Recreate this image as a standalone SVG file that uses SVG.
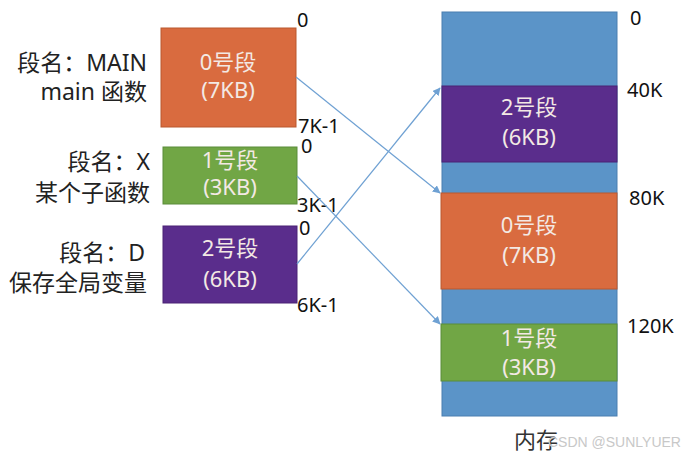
<svg xmlns="http://www.w3.org/2000/svg" width="681" height="457" viewBox="0 0 681 457">
<defs>
<style>
.lbl{font-family:"Noto Sans","Noto Sans CJK SC",sans-serif;font-size:23px;fill:#222;text-anchor:end}
.num{font-family:"Noto Sans","Noto Sans CJK SC",sans-serif;font-size:20px;fill:#111}
.in{font-family:"Noto Sans","Noto Sans CJK SC",sans-serif;font-size:22px;fill:#f3e9e4;text-anchor:middle}
.or{fill:#d96b3f;stroke:#b9582f;stroke-width:1}
.gr{fill:#71a645;stroke:#5b8c3a;stroke-width:1}
.pu{fill:#5a2d8c;stroke:#4a2275;stroke-width:1}
.bl{fill:#5b94c8;stroke:#4a7fb0;stroke-width:1}
.edge{stroke:#6fa1d3;stroke-width:1.2;fill:none;marker-end:url(#ah)}
</style>
<marker id="ah" viewBox="0 0 10 10" refX="9" refY="5" markerWidth="8" markerHeight="8" orient="auto" markerUnits="userSpaceOnUse">
<path d="M0,0 L10,5 L0,10 z" fill="#6fa1d3"/>
</marker>
</defs>
<rect width="681" height="457" fill="#fff"/>
<g id="seg0">
<rect class="or" x="161" y="28" width="135" height="99"/>
<text class="in" x="228" y="70">0号段</text>
<text class="in" x="228" y="98">(7KB)</text>
<text class="lbl" x="147" y="71">段名：MAIN</text>
<text class="lbl" x="147" y="100">main 函数</text>
<text class="num" x="297" y="27">0</text>
<text class="num" x="298" y="133">7K-1</text>
</g>
<g id="seg1">
<rect class="gr" x="163" y="147" width="134" height="57"/>
<text class="in" x="230" y="168">1号段</text>
<text class="in" x="230" y="195">(3KB)</text>
<text class="lbl" x="150" y="170">段名：X</text>
<text class="lbl" x="150" y="201">某个子函数</text>
<text class="num" x="301" y="153">0</text>
<text class="num" x="297" y="212">3K-1</text>
</g>
<g id="seg2">
<rect class="pu" x="163" y="226" width="134" height="77"/>
<text class="in" x="230" y="256">2号段</text>
<text class="in" x="230" y="287">(6KB)</text>
<text class="lbl" x="145" y="261">段名：D</text>
<text class="lbl" x="147" y="291">保存全局变量</text>
<text class="num" x="299" y="235">0</text>
<text class="num" x="297" y="312">6K-1</text>
</g>
<g id="memory">
<rect class="bl" x="442" y="12" width="175" height="404"/>
<rect class="pu" x="442" y="86" width="175" height="76"/>
<text class="in" x="529" y="115">2号段</text>
<text class="in" x="529" y="145">(6KB)</text>
<rect class="or" x="441" y="193" width="176" height="96"/>
<text class="in" x="529" y="233">0号段</text>
<text class="in" x="529" y="263">(7KB)</text>
<rect class="gr" x="441" y="324" width="176" height="57"/>
<text class="in" x="529" y="346">1号段</text>
<text class="in" x="529" y="375">(3KB)</text>
<text class="num" x="630" y="25">0</text>
<text class="num" x="627" y="97">40K</text>
<text class="num" x="629" y="205">80K</text>
<text class="num" x="627" y="333">120K</text>
<text x="514" y="448" style="font-family:'Noto Sans CJK SC',sans-serif;font-size:22px;fill:#333">内存</text>
</g>
<g id="connectors">
<line class="edge" x1="296" y1="77" x2="440" y2="193"/>
<line class="edge" x1="297" y1="176" x2="440" y2="324"/>
<line class="edge" x1="297" y1="264" x2="440" y2="88"/>
</g>
<text x="548" y="447" style="font-family:'Liberation Sans',sans-serif;font-size:14px;fill:#c8c8c8">CSDN @SUNLYUER</text>
</svg>
